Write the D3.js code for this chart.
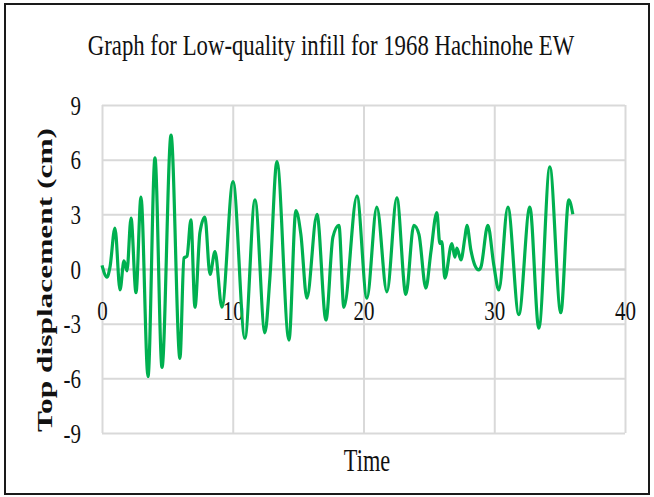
<!DOCTYPE html>
<html>
<head>
<meta charset="utf-8">
<script src="https://cdn.jsdelivr.net/npm/d3@7"></script>
<style>
  html, body { margin: 0; padding: 0; background: #fff; }
  svg { display: block; }
  text { font-family: "Liberation Serif", "Times New Roman", serif; fill: #111; }
</style>
</head>
<body>
<svg id="chart" width="654" height="497"></svg>
<script>
// Top displacement history (cm) against time (s)
const times = [0, 0.38, 0.61, 0.99, 1.38, 1.68, 1.91, 2.22, 2.60, 2.98, 3.52, 4.05, 4.59, 5.28, 5.96, 6.27, 6.50, 6.80, 7.11, 7.49, 7.87, 8.26, 8.64, 9.17, 10.02, 10.93, 11.70, 12.46, 12.84, 13.38, 14.30, 14.83, 15.21, 15.67, 16.44, 17.13, 17.66, 18.12, 18.50, 19.50, 20.26, 21.02, 21.79, 22.55, 23.24, 23.85, 24.24, 24.77, 25.15, 25.61, 25.84, 25.99, 26.22, 26.76, 26.99, 27.14, 27.45, 27.75, 27.91, 28.21, 28.52, 28.82, 28.98, 29.51, 29.97, 30.35, 31.04, 31.88, 32.72, 33.41, 34.25, 35.09, 35.70, 36.01];
const displacement = [0.2, -0.45, 0.1, 2.25, -1.15, 0.45, -0.1, 2.8, -1.3, 3.95, -5.9, 6.1, -5.4, 7.35, -4.9, 0.6, 0.7, 2.7, -2.1, 2.0, 2.85, -0.3, 0.95, -2.1, 4.8, -3.8, 3.8, -3.5, -0.5, 5.9, -3.9, 3.2, 1.9, -1.6, 3.0, -2.8, 1.75, 2.4, -2.1, 4.0, -1.6, 3.4, -1.25, 3.9, -1.4, 2.4, 1.9, -1.05, 0.9, 3.1, 1.4, 1.5, -0.5, 1.4, 0.65, 1.15, 0.5, 1.7, 2.4, 1.05, 0.2, -0.05, 0.1, 2.4, 0.2, -1.15, 3.4, -2.5, 3.4, -3.25, 5.6, -2.4, 3.8, 3.0];
const xTicks = [0, 10, 20, 30, 40];
const yTicks = [-9, -6, -3, 0, 3, 6, 9];

const chartTitle = "Graph for Low-quality infill  for 1968  Hachinohe EW";
const xTitle = "Time";
const yTitle = "Top displacement (cm)";

const svg = d3.select("#chart");
const squeeze = 0.75;            // narrow type face look
const plot = { left: 102, right: 625, top: 105, bottom: 433 };

const x = d3.scaleLinear().domain([0, 40]).range([plot.left, plot.right]);
const y = d3.scaleLinear().domain([-9, 9]).range([plot.bottom, plot.top]);

// outer frame
svg.append("rect")
  .attr("x", 5).attr("y", 4).attr("width", 644).attr("height", 490)
  .attr("fill", "none").attr("stroke", "#1a1a1a").attr("stroke-width", 2);

// gridlines
svg.append("g")
  .attr("transform", `translate(0,${plot.bottom})`)
  .call(d3.axisBottom(x).tickValues(xTicks).tickSize(-(plot.bottom - plot.top)).tickFormat(""))
  .call(g => g.select(".domain").remove())
  .call(g => g.selectAll("line").attr("stroke", "#d9d9d9").attr("stroke-width", 2));

svg.append("g")
  .attr("transform", `translate(${plot.left},0)`)
  .call(d3.axisLeft(y).tickValues(yTicks).tickSize(-(plot.right - plot.left)).tickFormat(""))
  .call(g => g.select(".domain").remove())
  .call(g => g.selectAll("line").attr("stroke", "#d9d9d9").attr("stroke-width", 2));

// horizontal axis through zero with its labels
svg.append("g")
  .attr("transform", `translate(0,${y(0)})`)
  .call(d3.axisBottom(x).tickValues(xTicks).tickSize(0).tickFormat(d3.format("d")))
  .call(g => g.select(".domain").attr("stroke", "#cfcfcf").attr("stroke-width", 2))
  .call(g => g.selectAll("text")
    .attr("y", 51).attr("dy", 0)
    .attr("font-size", 28)
    .attr("text-anchor", "middle")
    .attr("transform", `scale(${squeeze},1)`));

// vertical axis labels
svg.append("g")
  .attr("transform", `translate(${plot.left},0)`)
  .call(d3.axisLeft(y).tickValues(yTicks).tickSize(0).tickFormat(d => d < 0 ? "-" + Math.abs(d) : String(d)))
  .call(g => g.select(".domain").remove())
  .call(g => g.selectAll("text")
    .attr("x", -21 / squeeze).attr("dy", 9)
    .attr("font-size", 28)
    .attr("text-anchor", "end")
    .attr("transform", `scale(${squeeze},1)`));

// displacement trace
const pts = d3.zip(times, displacement);
svg.append("path")
  .datum(pts)
  .attr("fill", "none")
  .attr("stroke", "#00b050")
  .attr("stroke-width", 3.2)
  .attr("stroke-linejoin", "round")
  .attr("d", d3.line().x(d => x(d[0])).y(d => y(d[1])).curve(d3.curveMonotoneX));

// titles
svg.append("text")
  .attr("transform", `translate(331,55) scale(0.76,1)`)
  .attr("text-anchor", "middle")
  .attr("font-size", 30)
  .text(chartTitle);

svg.append("text")
  .attr("transform", `translate(367,471) scale(0.72,1)`)
  .attr("text-anchor", "middle")
  .attr("font-size", 31)
  .text(xTitle);

svg.append("text")
  .attr("transform", `translate(52,280) scale(${squeeze},1) rotate(-90)`)
  .attr("text-anchor", "middle")
  .attr("font-size", 27)
  .attr("font-weight", "bold")
  .attr("textLength", 304).attr("lengthAdjust", "spacingAndGlyphs")
  .text(yTitle);
</script>
</body>
</html>
